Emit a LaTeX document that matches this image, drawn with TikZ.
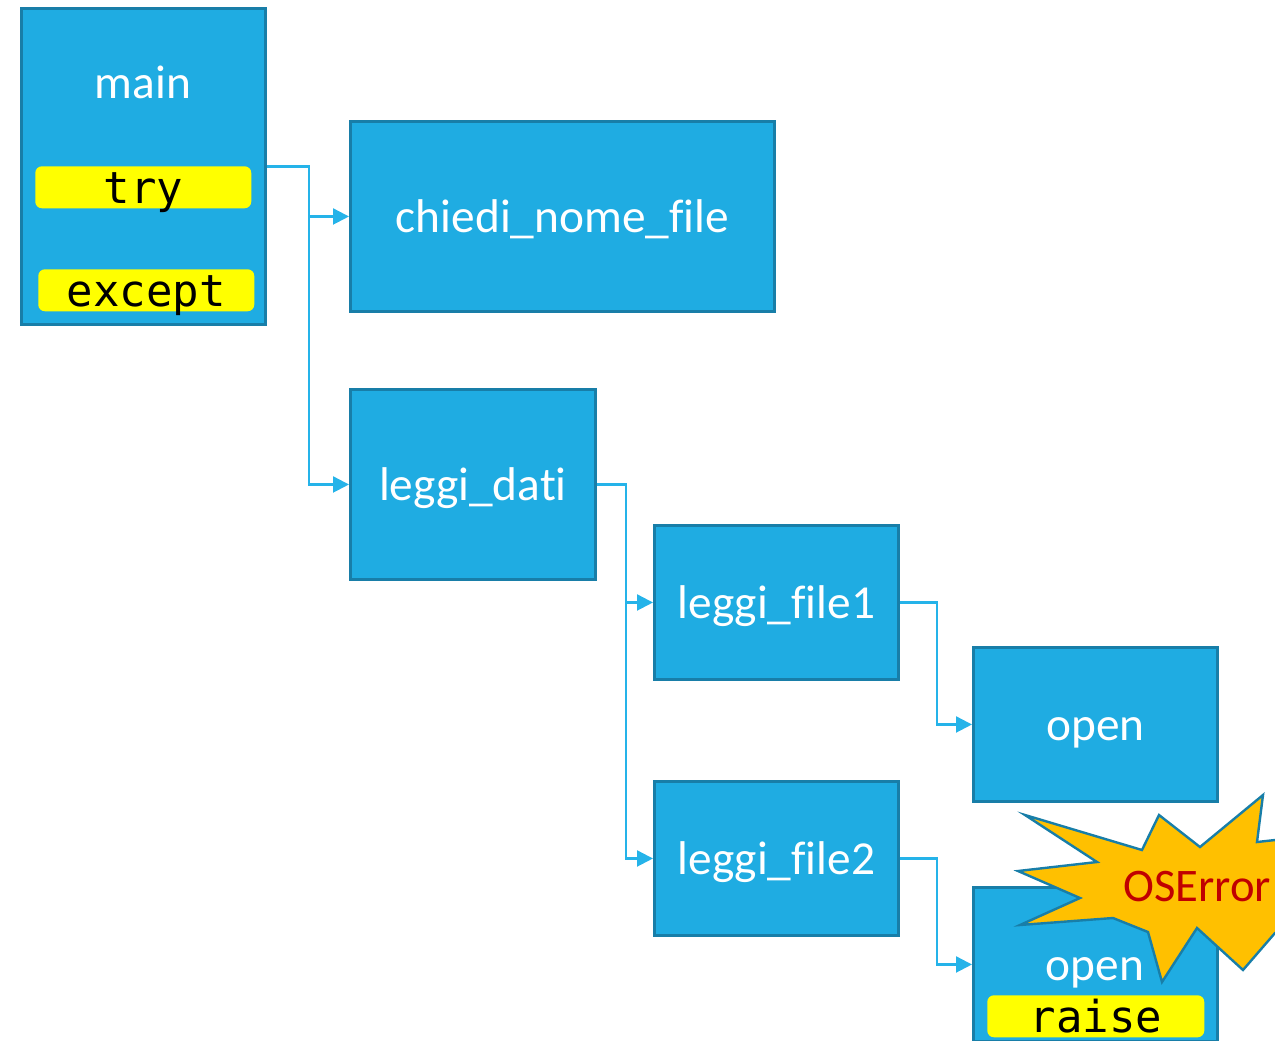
\documentclass[tikz,border=0pt]{standalone}
\usepackage{fontspec}
\setmainfont{Carlito}[Ligatures=NoCommon]
\setmonofont{DejaVu Sans Mono}
\usetikzlibrary{arrows.meta,positioning}
\definecolor{boxblue}{RGB}{31,172,226}
\definecolor{boxedge}{RGB}{24,126,168}
\definecolor{linkblue}{RGB}{37,179,233}
\definecolor{kwyellow}{RGB}{255,255,0}
\definecolor{burst}{RGB}{255,192,0}
\definecolor{errred}{RGB}{192,0,0}
\newcommand{\pxu}{0.75pt}

\begin{document}
\begin{tikzpicture}[
    x=0.75pt,y=-0.75pt,
    fn/.style={rectangle,draw=boxedge,fill=boxblue,line width=2.2pt,anchor=north west,inner sep=0pt,
      text=white,font=\fontsize{35.5}{40}\selectfont,text height=32pt,text depth=8pt},
    lbl/.style={text=white,font=\fontsize{35.5}{40}\selectfont,inner sep=0pt,text height=32pt,text depth=8pt},
    kw/.style={rectangle,fill=kwyellow,rounded corners=5pt,anchor=north west,inner sep=0pt,
      font=\ttfamily\fontsize{33}{36}\selectfont,text height=28pt,text depth=3.5pt},
    link/.style={draw=linkblue,line width=1.6pt},
    >={Triangle[length=12pt,width=12pt]}]
    \useasboundingbox (0,0) rectangle (1275,1040);
    \clip (0,0) rectangle (1275,1040);

    % boxes
    \node[fn,minimum width=244*\pxu,minimum height=316*\pxu] (main) at (20,7) {};
    \node[lbl] (mainlbl) at (143,82) {main};
    \node[kw,minimum width=216*\pxu,minimum height=41*\pxu] (try) at (35,166) {try};
    \node[kw,minimum width=216*\pxu,minimum height=42*\pxu] (except) at (38,269) {except};

    \node[fn,minimum width=424*\pxu,minimum height=190*\pxu] (chiedi) at (349,120) {chiedi\_nome\_file};
    \node[fn,minimum width=245*\pxu,minimum height=190*\pxu] (dati) at (349,388) {leggi\_dati};
    \node[fn,minimum width=244*\pxu,minimum height=154*\pxu] (file1) at (653,524) {leggi\_file1};
    \node[fn,minimum width=244*\pxu,minimum height=154*\pxu] (open1) at (972,646) {open};
    \node[fn,minimum width=244*\pxu,minimum height=154*\pxu] (file2) at (653,780) {leggi\_file2};
    \node[fn,minimum width=244*\pxu,minimum height=154*\pxu] (open2) at (972,886) {};
    \node[kw,minimum width=217*\pxu,minimum height=42*\pxu] (raise) at (987,995) {raise};

    % connectors
    \draw[link,->] (main.east) -- ++(42,0) |- (chiedi.west);
    \draw[link,->] (main.east) -- ++(42,0) |- (dati.west);
    \draw[link,->] (dati.east) -- ++(29,0) |- (file1.west);
    \draw[link,->] (dati.east) -- ++(29,0) |- (file2.west);
    \draw[link,->] (file1.east) -- ++(37,0) |- (open1.west);
    \draw[link,->] (file2.east) -- ++(37,0) |- (open2.west);

    % exception burst
    \draw[fill=burst,draw=boxedge,line width=1.8pt,line join=miter]
      (1025,815) -- (1142,850) -- (1159,815) -- (1200,847) -- (1263,795) -- (1257,842)
      -- (1320,835) -- (1300,880) -- (1330,930) -- (1275,933) -- (1243,970) -- (1197,928)
      -- (1162,982) -- (1148,932) -- (1113,918) -- (1020,925) -- (1080,898) -- (1018,871)
      -- (1097,862) -- cycle;
    \node[text=errred,font=\fontsize{35}{40}\selectfont,anchor=west,inner sep=0pt] (err) at (1123,887) {OSError};
    \node[lbl] (open2lbl) at (1095,964) {open};
  \end{tikzpicture}
\end{document}
